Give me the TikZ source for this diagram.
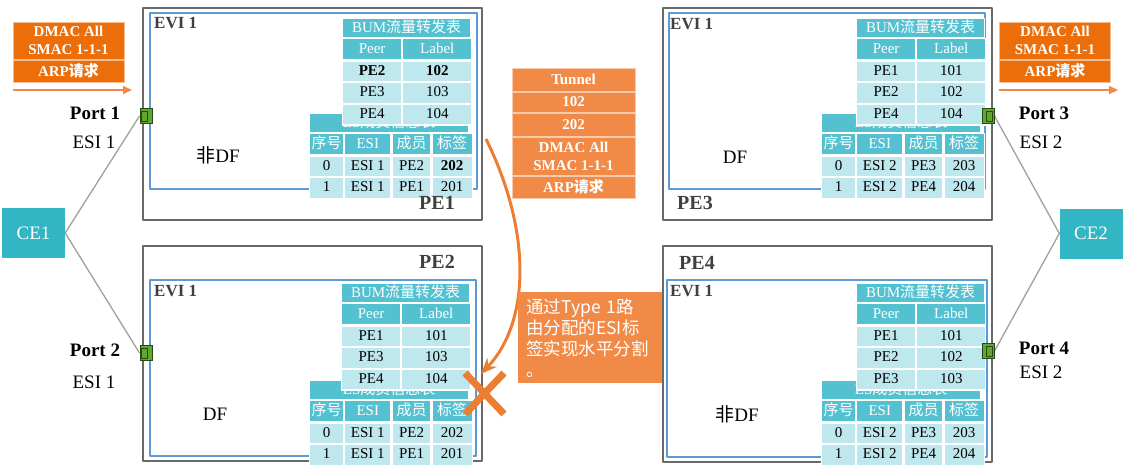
\documentclass[tikz,border=0pt]{standalone}
\usepackage{fontspec}
\setmainfont{Liberation Serif}
\newfontfamily\cjk{Noto Sans CJK SC}
\usetikzlibrary{positioning,arrows.meta}

\definecolor{tabdark}{RGB}{84,193,209}
\definecolor{tablight}{RGB}{190,232,238}
\definecolor{cefill}{RGB}{50,182,196}
\definecolor{pktorange}{RGB}{236,110,10}
\definecolor{tunorange}{RGB}{241,138,71}
\definecolor{floworange}{RGB}{237,125,49}
\definecolor{eviblue}{RGB}{91,155,213}
\definecolor{pegray}{RGB}{105,105,105}
\definecolor{labgray}{RGB}{64,64,64}
\definecolor{linkgray}{RGB}{160,160,160}
\definecolor{portgreen}{RGB}{96,168,44}
\definecolor{portdark}{RGB}{40,72,20}

% BUM table: name, x, y, then three rows of peer/label
\newcommand{\bumtab}[9]{%
  \node[tabtitle, minimum width=128, anchor=north west] (#1t) at (#2,#3) {BUM{\cjk 流量转发表}};
  \node[tabhead, minimum width=59, anchor=north west] (#1h1) at (#1t.south west) {Peer};
  \node[tabhead, minimum width=69, anchor=north west] (#1h2) at (#1h1.north east) {Label};
  \node[tabcell, minimum width=59, anchor=north west] (#1a1) at (#1h1.south west) {#4};
  \node[tabcell, minimum width=69, anchor=north west] (#1a2) at (#1a1.north east) {#5};
  \node[tabcell, minimum width=59, anchor=north west] (#1b1) at (#1a1.south west) {#6};
  \node[tabcell, minimum width=69, anchor=north west] (#1b2) at (#1b1.north east) {#7};
  \node[tabcell, minimum width=59, anchor=north west] (#1c1) at (#1b1.south west) {#8};
  \node[tabcell, minimum width=69, anchor=north west] (#1c2) at (#1c1.north east) {#9};
}
% ES table: name, x, y, esi, member/label of rows 0 and 1
\newcommand{\estab}[8]{%
  \node[tabtitle, minimum width=159, anchor=north west] (#1t) at (#2,#3) {ES{\cjk 成员信息表}};
  \node[tabhead, minimum width=34, anchor=north west] (#1h1) at (#1t.south west) {\cjk 序号};
  \node[tabhead, minimum width=46, anchor=north west] (#1h2) at (#1h1.north east) {ESI};
  \node[tabhead, minimum width=39, anchor=north west] (#1h3) at (#1h2.north east) {\cjk 成员};
  \node[tabhead, minimum width=40, anchor=north west] (#1h4) at (#1h3.north east) {\cjk 标签};
  \node[tabcell, minimum width=34, anchor=north west] (#1a1) at (#1h1.south west) {0};
  \node[tabcell, minimum width=46, anchor=north west] (#1a2) at (#1a1.north east) {#4};
  \node[tabcell, minimum width=39, anchor=north west] (#1a3) at (#1a2.north east) {#5};
  \node[tabcell, minimum width=40, anchor=north west] (#1a4) at (#1a3.north east) {#6};
  \node[tabcell, minimum width=34, anchor=north west] (#1b1) at (#1a1.south west) {1};
  \node[tabcell, minimum width=46, anchor=north west] (#1b2) at (#1b1.north east) {#4};
  \node[tabcell, minimum width=39, anchor=north west] (#1b3) at (#1b2.north east) {#7};
  \node[tabcell, minimum width=40, anchor=north west] (#1b4) at (#1b3.north east) {#8};
}

\begin{document}
\begin{tikzpicture}[x=1pt, y=-1pt, line join=round,
    pebox/.style={draw=pegray, line width=1.4pt},
    evibox/.style={draw=eviblue, line width=1.8pt},
    tabtitle/.style={draw=white, line width=1.2pt, fill=tabdark, text=white, inner sep=0pt,
      minimum height=19, text height=11, text depth=3, font=\fontsize{15}{15}\selectfont},
    tabhead/.style={tabtitle, minimum height=21},
    tabcell/.style={tabtitle, fill=tablight, text=black, minimum height=20.5},
    ce/.style={fill=cefill, text=white, minimum width=63, minimum height=50, inner sep=0pt,
      font=\fontsize{19}{19}\selectfont},
    port/.style={fill=portgreen, draw=portdark, line width=1pt, minimum width=12, minimum height=15, inner sep=0pt},
    portin/.style={draw=portdark, line width=0.8pt},
    link/.style={draw=linkgray, line width=1.3pt},
    evilabel/.style={text=labgray, inner sep=0pt, font=\bfseries\fontsize{17}{17}\selectfont},
    pelabel/.style={text=labgray, inner sep=0pt, font=\bfseries\fontsize{20}{20}\selectfont},
    role/.style={inner sep=0pt, font=\fontsize{19}{19}\selectfont},
    portlabel/.style={inner sep=0pt, font=\bfseries\fontsize{19}{19}\selectfont},
    pkt/.style={fill=pktorange, draw=white!55!pktorange, line width=1pt, text=white, align=center,
      minimum width=111, inner sep=0pt, font=\bfseries\fontsize{15}{18}\selectfont},
    tun/.style={pkt, fill=tunorange, draw=white!55!tunorange, minimum width=123},
    pktarrow/.style={draw=tunorange, line width=1.8pt, -{Triangle[length=9pt,width=8pt]}},
    flow/.style={draw=floworange, line width=3pt, -{Stealth[length=16pt,width=13pt]}},
    xmark/.style={draw=floworange, line width=7pt}]
  \useasboundingbox (0,0) rectangle (1139,471);

  % CE devices and ports
  \node[ce] (ce1) at (33.5,233) {CE1};
  \node[ce] (ce2) at (1091,233.5) {CE2};
  \node[port] (p1) at (146,116) {};
  \node[port] (p2) at (146,353) {};
  \node[port] (p3) at (988,116) {};
  \node[port] (p4) at (988,351) {};
  \draw[link] (ce1.east) -- (p1.west) (ce1.east) -- (p2.west);
  \draw[link] (ce2.west) -- (p3.east) (ce2.west) -- (p4.east);

  % PE boxes
  \draw[pebox] (143,8) rectangle (482,220);
  \draw[evibox] (150,13) rectangle (477,189);
  \draw[pebox] (143,246) rectangle (482,461);
  \draw[evibox] (150,280) rectangle (476,456);
  \draw[pebox] (663,8) rectangle (992,220);
  \draw[evibox] (669,13) rectangle (985,189);
  \draw[pebox] (663,246) rectangle (992,462);
  \draw[evibox] (667,280) rectangle (987,457);

  % tables
  \estab{es1}{309}{113}{ESI 1}{PE2}{\bfseries 202}{PE1}{201}
  \bumtab{bum1}{342}{18}{\bfseries PE2}{\bfseries 102}{PE3}{103}{PE4}{104}
  \estab{es2}{309}{380}{ESI 1}{PE2}{202}{PE1}{201}
  \bumtab{bum2}{341}{283}{PE1}{101}{PE3}{103}{PE4}{104}
  \estab{es3}{821}{113}{ESI 2}{PE3}{203}{PE4}{204}
  \bumtab{bum3}{856}{18}{PE1}{101}{PE2}{102}{PE4}{104}
  \estab{es4}{821}{380}{ESI 2}{PE3}{203}{PE4}{204}
  \bumtab{bum4}{856}{283}{PE1}{101}{PE2}{102}{PE3}{103}

  % port faces (drawn over tables)
  \node[port] (p1f) at (p1) {};
  \node[port] (p2f) at (p2) {};
  \node[port] (p3f) at (p3) {};
  \node[port] (p4f) at (p4) {};
  \draw[portin] ([xshift=2pt,yshift=-3pt]p1f.north west) rectangle ([xshift=-5pt,yshift=3pt]p1f.south east);
  \draw[portin] ([xshift=2pt,yshift=-3pt]p2f.north west) rectangle ([xshift=-5pt,yshift=3pt]p2f.south east);
  \draw[portin] ([xshift=-2pt,yshift=-3pt]p3f.north east) rectangle ([xshift=5pt,yshift=3pt]p3f.south west);
  \draw[portin] ([xshift=-2pt,yshift=-3pt]p4f.north east) rectangle ([xshift=5pt,yshift=3pt]p4f.south west);

  % labels
  \node[evilabel, anchor=west] (evi1) at (154,23) {EVI 1};
  \node[evilabel, anchor=west] (evi2) at (154,291) {EVI 1};
  \node[evilabel, anchor=west] (evi3) at (670,24) {EVI 1};
  \node[evilabel, anchor=west] (evi4) at (670,291) {EVI 1};
  \node[pelabel] (pe1) at (437,203) {PE1};
  \node[pelabel] (pe2) at (437,262) {PE2};
  \node[pelabel] (pe3) at (695,203) {PE3};
  \node[pelabel] (pe4) at (697,263) {PE4};
  \node[role] (role1) at (218,155) {{\cjk 非}DF};
  \node[role] (role2) at (215,414) {DF};
  \node[role] (role3) at (735,157) {DF};
  \node[role] (role4) at (737,414) {{\cjk 非}DF};
  \node[portlabel] (port1) at (95,113) {Port 1};
  \node[role] (esi1) at (94,142) {ESI 1};
  \node[portlabel] (port2) at (95,350) {Port 2};
  \node[role] (esi2) at (94,382) {ESI 1};
  \node[portlabel] (port3) at (1044,113) {Port 3};
  \node[role] (esi3) at (1041,142) {ESI 2};
  \node[portlabel] (port4) at (1044,348) {Port 4};
  \node[role] (esi4) at (1041,372) {ESI 2};

  % incoming ARP packets
  \node[pkt, minimum height=37] (pkt1a) at (68.5,40.5) {DMAC All\\SMAC 1-1-1};
  \node[pkt, minimum height=22, below=0pt of pkt1a] (pkt1b) {ARP{\cjk 请求}};
  \node[pkt, minimum height=37] (pkt3a) at (1055,40.5) {DMAC All\\SMAC 1-1-1};
  \node[pkt, minimum height=22, below=0pt of pkt3a] (pkt3b) {ARP{\cjk 请求}};
  \coordinate (in1s) at (13,90);
  \coordinate (in1e) at (132,90);
  \coordinate (in3s) at (999,90);
  \coordinate (in3e) at (1118,90);
  \draw[pktarrow] (in1s) -- (in1e);
  \draw[pktarrow] (in3s) -- (in3e);

  % tunnel packet
  \node[tun, minimum height=23] (tun1) at (573.5,79.5) {Tunnel};
  \node[tun, minimum height=20, below=0pt of tun1] (tun2) {102};
  \node[tun, minimum height=23, below=0pt of tun2] (tun3) {202};
  \node[tun, minimum height=38, below=0pt of tun3] (tun4) {DMAC All\\SMAC 1-1-1};
  \node[tun, minimum height=22, below=0pt of tun4] (tun5) {ARP{\cjk 请求}};

  % split horizon
  \coordinate (flows) at (486,139);
  \coordinate (flowe) at (481,374);
  \draw[flow] (flows) .. controls (532,232) and (530,322) .. (flowe);
  \coordinate (xa) at (465,373);
  \coordinate (xb) at (504,414);
  \coordinate (xc) at (504,373);
  \coordinate (xd) at (465,414);
  \draw[xmark] (xa) -- (xb) (xc) -- (xd);
  \node[fill=tunorange, text=white, anchor=north west, minimum width=143, minimum height=91,
    text width=128, align=left, inner xsep=8, inner ysep=0pt, font=\cjk\fontsize{17.5}{21}\selectfont]
    (note) at (518,292) {通过Type 1路\\由分配的ESI标\\签实现水平分割\\。};
\end{tikzpicture}
\end{document}
